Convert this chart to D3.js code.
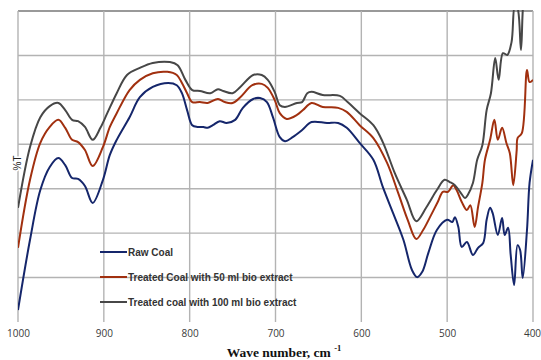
<!DOCTYPE html>
<html>
<head>
<meta charset="utf-8">
<script src="https://cdn.jsdelivr.net/npm/d3@7"></script>
<style>
  body { margin: 0; background: #fff; }
  svg { display: block; }
</style>
</head>
<body>
<div id="chart"></div>
<script>
// wavenumber (cm-1) and %T readings, one pair of arrays per spectrum
const rawWn = [1000, 986, 974, 963, 953, 945, 937, 930, 922, 913, 901, 893, 885, 870, 858, 843, 825, 815, 809, 803, 797, 791, 784, 779, 773, 765, 757, 747, 738, 726, 718, 710, 703, 695, 689, 680, 669, 658, 640, 627, 617, 602, 586, 575, 563, 551, 541, 535, 529, 522, 512, 500, 494, 491, 487, 483, 477, 470, 464, 458, 454, 450, 447, 441, 436, 433, 429, 426, 422, 418, 415, 412, 407, 404, 400];
const rawT = [2.7, 18.5, 29.7, 34.9, 36.9, 35.3, 32.4, 32.2, 30.6, 26.8, 32.0, 37.6, 41.0, 46.1, 50.6, 52.9, 53.8, 53.3, 51.5, 47.7, 44.3, 43.9, 43.9, 43.7, 44.3, 45.2, 44.8, 45.5, 48.2, 50.2, 50.4, 49.5, 46.1, 41.6, 40.7, 41.6, 43.2, 45.0, 44.8, 44.8, 43.7, 40.3, 36.5, 30.4, 24.5, 18.5, 11.7, 10.1, 11.3, 15.5, 20.7, 23.0, 22.5, 23.6, 21.4, 16.9, 18.0, 15.1, 16.7, 17.8, 23.0, 25.7, 24.5, 19.6, 23.4, 19.6, 21.2, 15.1, 8.3, 17.3, 16.2, 9.9, 20.7, 31.3, 36.5];

const t50Wn = [1000, 986, 974, 963, 953, 945, 937, 930, 922, 913, 901, 893, 885, 870, 858, 843, 826, 815, 809, 803, 797, 788, 779, 767, 759, 750, 741, 727, 716, 709, 701, 695, 687, 675, 668, 658, 645, 627, 617, 602, 586, 570, 557, 546, 536, 528, 520, 511, 505, 499, 493, 489, 483, 477, 473, 468, 464, 459, 456, 450, 445, 441, 436, 431, 427, 423, 419, 418, 413, 407, 404, 400];
const t50T = [16.7, 32.0, 40.3, 43.9, 45.5, 43.7, 41.0, 40.5, 38.7, 35.1, 39.4, 43.9, 47.0, 52.2, 54.5, 56.0, 56.3, 55.6, 53.8, 51.5, 49.5, 49.5, 49.3, 50.2, 49.5, 49.3, 50.6, 53.3, 53.6, 52.7, 50.0, 47.0, 45.7, 46.6, 47.7, 49.3, 48.4, 48.2, 47.3, 44.3, 41.4, 35.8, 29.0, 23.0, 18.7, 20.7, 23.6, 27.0, 29.3, 29.3, 30.8, 29.7, 27.0, 25.2, 26.3, 21.4, 25.9, 31.3, 36.5, 41.0, 45.5, 41.0, 43.7, 40.3, 38.0, 30.8, 38.7, 41.4, 42.5, 56.7, 54.0, 54.5];

const t100Wn = [1000, 986, 974, 963, 953, 945, 937, 930, 922, 913, 904, 896, 885, 873, 858, 843, 823, 814, 805, 797, 788, 776, 767, 761, 750, 741, 726, 716, 709, 701, 695, 689, 675, 669, 663, 658, 645, 625, 616, 602, 586, 575, 561, 547, 536, 524, 512, 503, 497, 491, 485, 479, 476, 470, 465, 459, 454, 449, 444, 440, 435, 430, 425, 421, 418, 414, 411, 406, 400];
const t100T = [25.7, 39.4, 46.1, 48.6, 49.3, 47.7, 45.5, 45.2, 43.9, 41.0, 43.7, 47.0, 51.5, 55.6, 57.2, 58.3, 58.5, 57.8, 54.5, 52.2, 52.0, 51.5, 52.4, 52.0, 51.5, 52.9, 55.6, 55.6, 54.5, 51.8, 48.8, 48.4, 49.3, 49.5, 51.5, 51.8, 51.1, 50.9, 49.5, 47.0, 44.3, 40.5, 33.5, 27.5, 22.7, 25.9, 29.7, 32.0, 31.5, 30.8, 29.3, 27.9, 28.6, 31.3, 36.5, 39.8, 47.7, 51.5, 59.4, 54.5, 60.5, 60.1, 63.0, 71.3, 70.7, 61.2, 72.5, 77, 77];

const seriesNames = ["Raw Coal", "Treated Coal with 50 ml bio extract", "Treated coal with 100 ml bio extract"];
const xTicks = [1000, 900, 800, 700, 600, 500, 400];
const yGrid = [10, 20, 30, 40, 50, 60, 70];

const width = 541, height = 360;
const padding = [11, 8, 38, 18]; // top right bottom left
const colors = ["#15266b", "#a1300f", "#474747"];

const series = [
  rawWn.map((w, i) => ({ wn: w, t: rawT[i] })),
  t50Wn.map((w, i) => ({ wn: w, t: t50T[i] })),
  t100Wn.map((w, i) => ({ wn: w, t: t100T[i] }))
];

const svg = d3.select("#chart").append("svg")
  .attr("width", width)
  .attr("height", height);

const xScale = d3.scaleLinear()
  .domain([1000, 400])
  .range([padding[3], width - padding[1]]);
const yScale = d3.scaleLinear()
  .domain([0, 70])
  .range([height - padding[2], padding[0]]);

// grid
svg.append("g")
  .selectAll("line")
  .data(yGrid)
  .enter()
  .append("line")
  .attr("x1", xScale(1000)).attr("x2", xScale(400))
  .attr("y1", d => yScale(d)).attr("y2", d => yScale(d))
  .attr("stroke", d => d === 70 ? "#999" : "#b3b3b3")
  .attr("stroke-width", d => d === 70 ? 2 : 1.4);

svg.append("g")
  .selectAll("line")
  .data(xTicks)
  .enter()
  .append("line")
  .attr("x1", d => xScale(d)).attr("x2", d => xScale(d))
  .attr("y1", yScale(70)).attr("y2", yScale(0))
  .attr("stroke", "#b3b3b3")
  .attr("stroke-width", 1.4);

// x axis labels (axis line and ticks hidden)
const xAxis = d3.axisBottom(xScale)
  .tickValues(xTicks)
  .tickFormat(d3.format("d"))
  .tickSize(0)
  .tickPadding(8);
const gx = svg.append("g")
  .attr("transform", `translate(0, ${yScale(0)})`)
  .call(xAxis);
gx.select(".domain").remove();
gx.selectAll("text")
  .attr("font-family", "Open Sans, sans-serif")
  .attr("font-size", 10)
  .attr("fill", "#3a3a3a")
  .attr("dx", d => d === 400 ? -1 : 0);

// y label
svg.append("text")
  .attr("transform", `translate(21, 163) rotate(-90)`)
  .attr("text-anchor", "middle")
  .attr("font-family", "Liberation Sans, sans-serif")
  .attr("font-size", 10)
  .attr("fill", "#222")
  .attr("stroke", "#fff")
  .attr("stroke-width", 3)
  .attr("paint-order", "stroke")
  .text("%T");

// x title
const title = svg.append("text")
  .attr("x", 284)
  .attr("y", 357)
  .attr("text-anchor", "middle")
  .attr("font-family", "Liberation Serif, serif")
  .attr("font-weight", "bold")
  .attr("font-size", 13.5)
  .attr("fill", "#111");
title.append("tspan").text("Wave number, cm ");
title.append("tspan").attr("font-size", 8.5).attr("dy", -6).text("-1");

// spectra
svg.append("clipPath").attr("id", "plot")
  .append("rect")
  .attr("x", padding[3]).attr("y", padding[0] - 1)
  .attr("width", width - padding[1] - padding[3])
  .attr("height", height - padding[0] - padding[2] + 1);

const line = d3.line()
  .x(d => xScale(d.wn))
  .y(d => yScale(d.t))
  .curve(d3.curveCatmullRom.alpha(0.5));

svg.append("g")
  .attr("clip-path", "url(#plot)")
  .selectAll("path")
  .data(series)
  .enter()
  .append("path")
  .attr("d", line)
  .attr("fill", "none")
  .attr("stroke", (d, i) => colors[i])
  .attr("stroke-width", 2);

// legend
const legend = svg.append("g")
  .selectAll("g")
  .data(seriesNames)
  .enter()
  .append("g")
  .attr("transform", (d, i) => `translate(100, ${252 + i * 25})`);
legend.append("line")
  .attr("x1", 0).attr("x2", 27)
  .attr("stroke", (d, i) => colors[i])
  .attr("stroke-width", 2);
legend.append("text")
  .attr("x", 28)
  .attr("dy", "0.35em")
  .attr("font-family", "Liberation Sans, sans-serif")
  .attr("font-weight", "bold")
  .attr("font-size", 10)
  .attr("fill", "#333")
  .text(d => d);
</script>
</body>
</html>
